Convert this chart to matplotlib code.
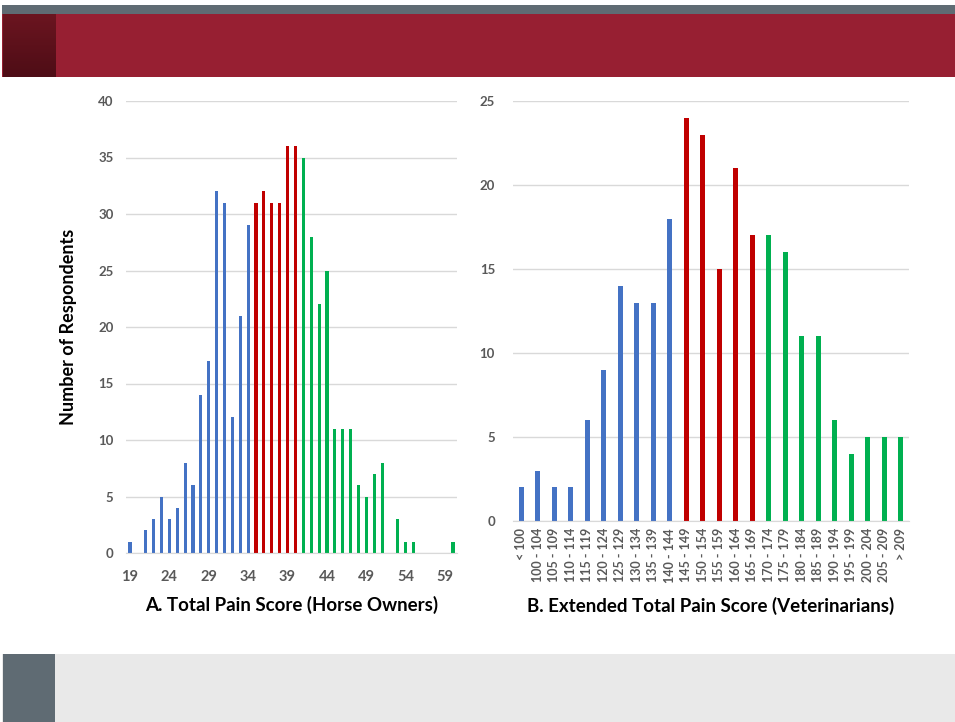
import numpy as np
import matplotlib
matplotlib.use("Agg")
import matplotlib.pyplot as plt
from matplotlib.patches import Rectangle
from matplotlib.colors import LinearSegmentedColormap

# ---- data: panel A (horse owners), score 19..60
scoreA = list(range(19, 61))
countA = [1, 0, 2, 3, 5, 3, 4, 8, 6, 14, 17, 32, 31, 12, 21, 29,
          31, 32, 31, 31, 36, 36,
          35, 28, 22, 25, 11, 11, 11, 6, 5, 7, 8, 0, 3, 1, 1, 0, 0, 0, 0, 1]
tickA = [19, 24, 29, 34, 39, 44, 49, 54, 59]

# ---- data: panel B (veterinarians)
binsB = ["< 100", "100 - 104", "105 - 109", "110 - 114", "115 - 119", "120 - 124",
         "125 - 129", "130 - 134", "135 - 139", "140 - 144", "145 - 149", "150 - 154",
         "155 - 159", "160 - 164", "165 - 169", "170 - 174", "175 - 179", "180 - 184",
         "185 - 189", "190 - 194", "195 - 199", "200 - 204", "205 - 209", "> 209"]
countB = [2, 3, 2, 2, 6, 9, 14, 13, 13, 18, 24, 23, 15, 21, 17, 17, 16, 11, 11, 6, 4, 5, 5, 5]

BLUE = "#4472C4"
RED = "#C00000"
GREEN = "#00B050"
GRID = "#D9D9D9"
TXT = "#595959"

plt.rcParams['font.family'] = ['Lato', 'DejaVu Sans']

W, H = 955, 722
fig = plt.figure(figsize=(W / 100, H / 100), dpi=100)

def box(x0, y0, x1, y1, color):
    # rectangle in pixel coords (top-left origin)
    fig.add_artist(Rectangle((x0 / W, 1 - y1 / H), (x1 - x0) / W, (y1 - y0) / H,
                             transform=fig.transFigure, facecolor=color,
                             edgecolor='none', zorder=0))

# slide decoration
box(2, 5, W, 14, "#5F6B73")
box(2, 14, W, 77, "#971F32")
gax = fig.add_axes([3 / W, 1 - 77 / H, 52 / W, 63 / H])
grad = np.linspace(0, 1, 64).reshape(-1, 1)
cm = LinearSegmentedColormap.from_list("g", ["#6B1520", "#4E0D16"])
gax.imshow(grad, aspect='auto', cmap=cm)
gax.axis('off')
box(2, 654, W, H, "#E9E9E9")
box(3, 654, 55, H, "#5F6B73")

def colorsA(s):
    if s < 35:
        return BLUE
    if s < 41:
        return RED
    return GREEN

def style(ax, ymax, step):
    ax.set_ylim(0, ymax)
    ax.set_yticks(range(0, ymax + 1, step))
    ax.yaxis.grid(True, color=GRID, linewidth=1)
    ax.set_axisbelow(True)
    for sp in ["top", "right", "left"]:
        ax.spines[sp].set_visible(False)
    ax.spines["bottom"].set_color(GRID)
    ax.tick_params(axis='both', length=0, colors=TXT, labelsize=9.5)
    for lab in ax.get_yticklabels() + ax.get_xticklabels():
        lab.set_fontweight('bold')

# ---- panel A
axA = fig.add_axes([126 / W, 1 - 553 / H, (457 - 126) / W, (553 - 101) / H])
posA = np.arange(len(scoreA))
axA.bar(posA, countA, width=0.4, color=[colorsA(s) for s in scoreA])
axA.set_xlim(-0.5, len(scoreA) - 0.5)
axA.set_xticks([scoreA.index(t) for t in tickA])
axA.set_xticklabels([str(t) for t in tickA])
style(axA, 40, 5)
axA.tick_params(axis='x', labelsize=10.5, pad=12)
axA.tick_params(axis='y', pad=9)
axA.set_xlabel("A. Total Pain Score (Horse Owners)", fontsize=13.5,
               fontweight='bold', color='black', labelpad=9)
axA.set_ylabel("Number of Respondents", fontsize=13, fontweight='bold',
               color='black', labelpad=15)

# ---- panel B
axB = fig.add_axes([513 / W, 1 - 521 / H, (909 - 513) / W, (521 - 101) / H])
posB = np.arange(len(binsB))
colB = [BLUE] * 10 + [RED] * 5 + [GREEN] * 9
axB.bar(posB, countB, width=0.33, color=colB)
axB.set_xlim(-0.5, len(binsB) - 0.5)
axB.set_xticks(posB)
axB.set_xticklabels(binsB, rotation=90)
style(axB, 25, 5)
axB.tick_params(axis='x', labelsize=9, pad=5)
axB.tick_params(axis='y', pad=13)
axB.set_xlabel("B. Extended Total Pain Score (Veterinarians)", fontsize=13.5,
               fontweight='bold', color='black', labelpad=10)

fig.savefig("out.png", dpi=100)
